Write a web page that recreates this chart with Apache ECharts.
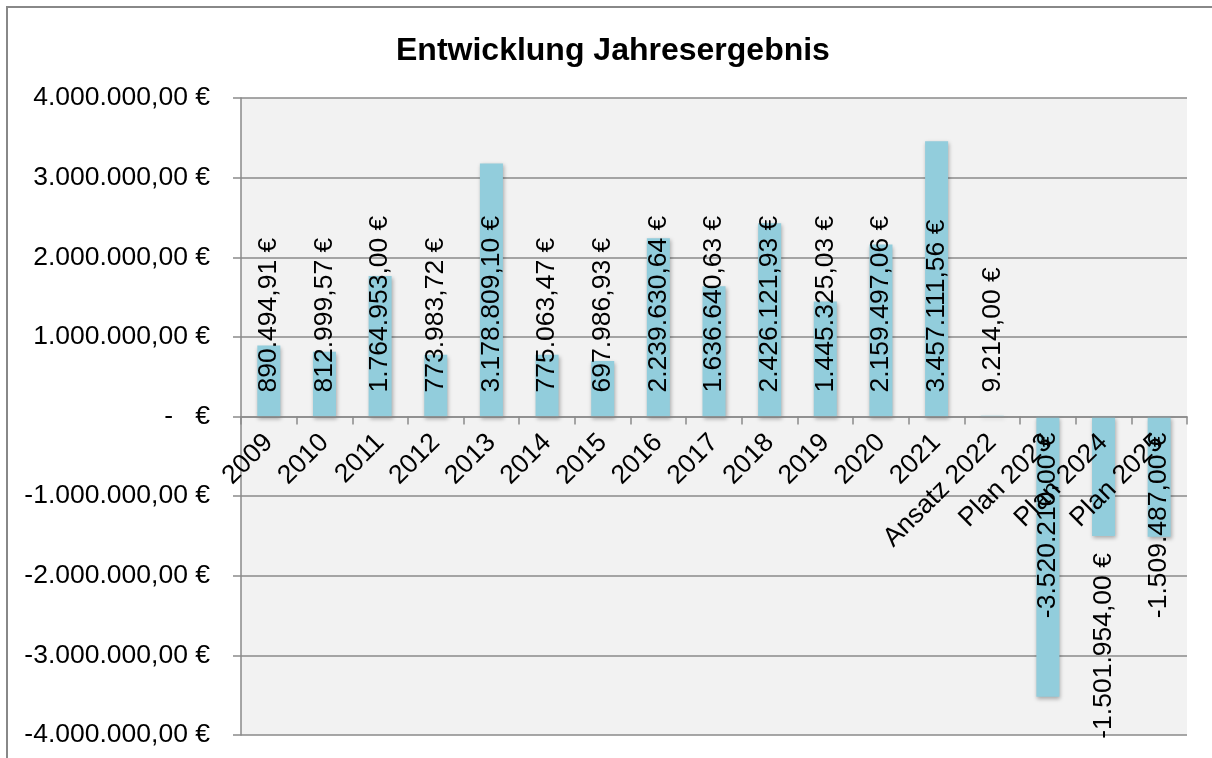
<!DOCTYPE html>
<html>
<head>
<meta charset="utf-8">
<script src="https://cdn.jsdelivr.net/npm/echarts@6/dist/echarts.min.js"></script>
<style>
  html, body { margin: 0; padding: 0; background: #fff; }
  #chart { width: 1212px; height: 758px; }
</style>
</head>
<body>
<div id="chart"></div>
<script>
    // Jahresergebnisse in Euro
    const categories = ['2009', '2010', '2011', '2012', '2013', '2014', '2015', '2016', '2017',
        '2018', '2019', '2020', '2021', 'Ansatz 2022', 'Plan 2023', 'Plan 2024', 'Plan 2025'];
    const results = [890494.91, 812999.57, 1764953.00, 773983.72, 3178809.10, 775063.47, 697986.93,
        2239630.64, 1636640.63, 2426121.93, 1445325.03, 2159497.06, 3457111.56, 9214.00,
        -3520210.00, -1501954.00, -1509487.00];
    const yTicks = [-4000000, -3000000, -2000000, -1000000, 0, 1000000, 2000000, 3000000, 4000000];

    // label sitzt bei diesem Balken unterhalb des Balkens
    const labelOutside = ['Plan 2024'];

    const font = 'Liberation Sans, Arial, sans-serif';
    const gray = '#8a8a8a';
    const gridTop = 98, gridBottom = 23, chartHeight = 758;

    function euro (v) {
        let neg = v < 0;
        let parts = Math.abs(v).toFixed(2).split('.');
        let int = parts[0].replace(/\B(?=(\d{3})+(?!\d))/g, '.');
        return (neg ? '-' : '') + int + ',' + parts[1] + ' €';
    }

    function labelFor (cat, v) {
        if (v >= 0) {
            return { position: 'insideBottom', distance: 24, align: 'left' };
        }
        if (labelOutside.indexOf(cat) >= 0) {
            return { position: 'bottom', distance: 17, align: 'right' };
        }
        return { position: 'insideTop', distance: 16, align: 'right' };
    }

    let seriesData = results.map(function (v, i) {
        return { value: v, label: labelFor(categories[i], v) };
    });

    // x-Achse sitzt auf der Nulllinie (Mitte, da min = -max)
    let xOffset = -(chartHeight - gridTop - gridBottom) / 2;

    let option = {
        animation: false,
        title: {
            text: 'Entwicklung Jahresergebnis',
            left: 391,
            top: 30,
            textStyle: { fontFamily: font, fontSize: 32, fontWeight: 'bold', color: '#000' }
        },
        graphic: [{
            type: 'rect',
            shape: { x: 7, y: 7, width: 1230, height: 780 },
            style: { fill: 'none', stroke: '#888', lineWidth: 2 },
            silent: true
        }],
        grid: {
            left: 241,
            top: gridTop,
            right: 25,
            bottom: gridBottom,
            show: true,
            backgroundColor: '#f2f2f2',
            borderWidth: 0,
            containLabel: false,
            outerBoundsMode: 'none'
        },
        xAxis: {
            type: 'category',
            data: categories,
            position: 'bottom',
            offset: xOffset,
            z: 3,
            axisLine: { onZero: false, lineStyle: { color: gray, width: 1.5 } },
            axisTick: { show: true, length: 8, lineStyle: { color: gray, width: 1.5 } },
            axisLabel: {
                interval: 0,
                rotate: 45,
                margin: 22,
                color: '#000',
                fontFamily: font,
                fontSize: 26.5
            },
            splitLine: { show: false }
        },
        yAxis: {
            type: 'value',
            min: yTicks[0],
            max: yTicks[yTicks.length - 1],
            interval: 1000000,
            axisLine: { show: true, lineStyle: { color: gray, width: 1.5 } },
            axisTick: { show: true, length: 8, lineStyle: { color: gray, width: 1.5 } },
            axisLabel: {
                margin: 31,
                color: '#000',
                fontFamily: font,
                fontSize: 26.5,
                formatter: function (value) {
                    if (value === 0) {
                        return '-   €';
                    }
                    return euro(value);
                }
            },
            splitLine: { show: true, lineStyle: { color: gray, width: 1.5 } }
        },
        series: [{
            name: 'Jahresergebnis',
            type: 'bar',
            barWidth: 23,
            itemStyle: {
                color: '#92cddc',
                shadowColor: 'rgba(0,0,0,0.3)',
                shadowBlur: 4,
                shadowOffsetX: 1,
                shadowOffsetY: 2
            },
            label: {
                show: true,
                rotate: 90,
                verticalAlign: 'middle',
                color: '#000',
                fontFamily: font,
                fontSize: 26.5,
                formatter: function (p) {
                    return euro(p.value);
                }
            },
            data: seriesData
        }]
    };

    let myChart = echarts.init(document.getElementById('chart'));
    myChart.setOption(option);
</script>
</body>
</html>
